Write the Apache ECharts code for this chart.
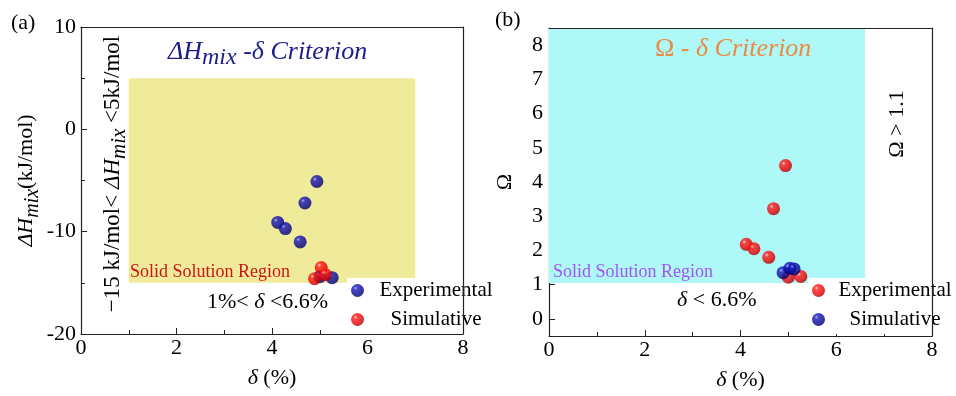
<!DOCTYPE html>
<html>
<head>
<meta charset="utf-8">
<script src="https://cdn.jsdelivr.net/npm/echarts@6/dist/echarts.min.js"></script>
<style>html,body{margin:0;padding:0;background:#fff;}#c{width:956px;height:396px;}</style>
</head>
<body>
<div id="c"></div>
<script>
// ---- data ----
const expDelta = [4.12, 4.28, 4.59, 4.69, 4.94, 5.00, 5.26];
const expDH    = [-9.1, -9.7, -11.0, -7.2, -5.1, -14.4, -14.5];
const expOmega = [2.18, 2.05, 1.80, 3.22, 4.48, 1.22, 1.24];
const simDelta = [4.89, 5.03, 5.12];
const simDH    = [-14.6, -13.5, -14.2];
const simOmega = [1.35, 1.48, 1.46];
// criterion regions
const regionA_delta = [1, 7];
const regionA_H = [-15, 5];
const regionB_delta = [0, 6.6];
const regionB_omega = [1.05, 8.5];
// axis ticks
const xTicks = [0, 2, 4, 6, 8];
const yTicksA = [-20, -10, 0, 10];
const yTicksB = [0, 1, 2, 3, 4, 5, 6, 7, 8];

const FONT = 'Liberation Serif';
const zip = (a, b) => a.map((v, i) => [v, b[i]]);

const blueBall = {type:'radial', x:0.35, y:0.32, r:0.7, colorStops:[
  {offset:0, color:'#9a9cff'},{offset:0.22, color:'#1818b8'},{offset:0.7, color:'#050590'},{offset:1, color:'#000060'}]};
const redBall = {type:'radial', x:0.35, y:0.32, r:0.7, colorStops:[
  {offset:0, color:'#ffd0d0'},{offset:0.22, color:'#ff1a1a'},{offset:0.7, color:'#ee0000'},{offset:1, color:'#a00000'}]};

const chart = echarts.init(document.getElementById('c'), null, {renderer:'canvas'});

function mainX(gi) {
  return {
    gridIndex: gi, type:'value', min: xTicks[0], max: xTicks[xTicks.length-1], interval: 2,
    position:'bottom',
    axisLine:{show:true, onZero:false, lineStyle:{color:'#222', width:1.2}},
    axisTick:{show:true, inside:true, length:6, lineStyle:{color:'#222'}},
    minorTick:{show:true, splitNumber:2, length:4, lineStyle:{color:'#222'}},
    splitLine:{show:false},
    axisLabel:{color:'#000', fontSize:22, fontFamily:FONT, margin:3},
    name:'{i|δ} (%)', nameLocation:'middle', nameGap:33,
    nameTextStyle:{color:'#000', fontSize:22, fontFamily:FONT,
      rich:{i:{fontStyle:'italic', fontSize:22, fontFamily:FONT, color:'#000'}}}
  };
}
function frameX(gi) {
  return {gridIndex:gi, type:'value', position:'top', min:0, max:8, z:5,
    axisLine:{show:true, onZero:false, lineStyle:{color:'#222', width:1.2}},
    axisTick:{show:false}, axisLabel:{show:false}, splitLine:{show:false}};
}
function frameY(gi, mn, mx) {
  return {gridIndex:gi, type:'value', position:'right', min:mn, max:mx, z:5,
    axisLine:{show:true, onZero:false, lineStyle:{color:'#222', width:1.2}},
    axisTick:{show:false}, axisLabel:{show:false}, splitLine:{show:false}};
}

// rich styles for echarts components (use color)
const subRichC = (color, size) => ({
  i:{fontStyle:'italic', fontSize:size, fontFamily:FONT, color:color, lineHeight:34},
  s:{fontStyle:'italic', fontSize:size-2, fontFamily:FONT, color:color, lineHeight:34, verticalAlign:'bottom'},
  n:{fontSize:size, fontFamily:FONT, color:color, lineHeight:34}
});
// rich styles for graphic elements (use fill)
const subRichG = (color, size, lh) => ({
  i:{fontStyle:'italic', fontSize:size, fontFamily:FONT, fill:color, lineHeight:lh || 34},
  s:{fontStyle:'italic', fontSize:size-2, fontFamily:FONT, fill:color, lineHeight:lh || 34, verticalAlign:'bottom'},
  n:{fontSize:size, fontFamily:FONT, fill:color, lineHeight:lh || 34}
});

const option = {
  backgroundColor:'#fff',
  animation:false,
  textStyle:{fontFamily:FONT},
  grid:[
    {left:81, top:27, width:382, height:307, show:false},
    {left:549, top:28, width:383, height:308, show:false}
  ],
  xAxis:[mainX(0), mainX(1), frameX(0), frameX(1)],
  yAxis:[
    {gridIndex:0, type:'value', min:yTicksA[0], max:yTicksA[yTicksA.length-1], interval:10,
      axisLine:{show:true, onZero:false, lineStyle:{color:'#222', width:1.2}},
      axisTick:{show:true, inside:true, length:6, lineStyle:{color:'#222'}},
      minorTick:{show:true, splitNumber:2, length:4, lineStyle:{color:'#222'}},
      splitLine:{show:false},
      axisLabel:{color:'#000', fontSize:22, fontFamily:FONT, margin:5},
      name:'{i|ΔH}{s|mix}{n|(kJ/mol)}', nameLocation:'middle', nameGap:36, nameRotate:90,
      nameTextStyle:{fontFamily:FONT, rich: subRichC('#000', 22)}
    },
    {gridIndex:1, type:'value', min:-0.5, max:8.5, splitNumber:9,
      axisLine:{show:true, onZero:false, lineStyle:{color:'#222', width:1.2}},
      axisTick:{show:true, inside:true, length:6, lineStyle:{color:'#222'},
        customValues: yTicksB},
      splitLine:{show:false},
      axisLabel:{color:'#000', fontSize:22, fontFamily:FONT, margin:6, customValues: yTicksB,
        formatter: v => (Math.abs(v - Math.round(v)) < 1e-6 ? String(Math.round(v)) : '')},
      name:'Ω', nameLocation:'middle', nameGap:33, nameRotate:90,
      nameTextStyle:{color:'#000', fontSize:22, fontFamily:FONT}
    },
    frameY(0, -20, 10), frameY(1, -0.5, 8.5)
  ],
  legend:[
    {left:347, top:278, orient:'vertical', icon:'circle', itemWidth:13, itemHeight:13, itemGap:8,
      padding:[2,2,4,4], backgroundColor:'#fff', selectedMode:false, z:3,
      data:[{name:'Experimental', itemStyle:{color:blueBall}}, {name:'Simulative', itemStyle:{color:redBall}}],
      formatter: n => '{t|' + n + '}',
      textStyle:{fontFamily:FONT, rich:{t:{width:134, align:'center', fontSize:21, fontFamily:FONT, color:'#000', lineHeight:22}}}
    },
    {left:808, top:278, orient:'vertical', icon:'circle', itemWidth:13, itemHeight:13, itemGap:8,
      padding:[2,2,4,4], backgroundColor:'#fff', selectedMode:false, z:3,
      data:[{name:'Experimental', itemStyle:{color:redBall}}, {name:'Simulative', itemStyle:{color:blueBall}}],
      formatter: n => '{t|' + n + '}',
      textStyle:{fontFamily:FONT, rich:{t:{width:130, align:'center', fontSize:21, fontFamily:FONT, color:'#000', lineHeight:22}}}
    }
  ],
  series:[
    {name:'regionA', type:'scatter', xAxisIndex:0, yAxisIndex:0, data:[], z:1, silent:true,
      markArea:{silent:true, itemStyle:{color:'#f0eb9b'},
        data:[[{coord:[regionA_delta[0], regionA_H[1]]}, {coord:[regionA_delta[1], regionA_H[0]]}]]}},
    {name:'regionB', type:'scatter', xAxisIndex:1, yAxisIndex:1, data:[], z:1, silent:true,
      markArea:{silent:true, itemStyle:{color:'#aef8f8'},
        data:[[{coord:[regionB_delta[0], regionB_omega[1]]}, {coord:[regionB_delta[1], regionB_omega[0]]}]]}},
    {name:'Experimental', type:'scatter', xAxisIndex:0, yAxisIndex:0, z:4, symbolSize:13,
      itemStyle:{color:blueBall}, data: zip(expDelta, expDH)},
    {name:'Simulative', type:'scatter', xAxisIndex:0, yAxisIndex:0, z:4, symbolSize:13,
      itemStyle:{color:redBall}, data: zip(simDelta, simDH)},
    {name:'Experimental', type:'scatter', xAxisIndex:1, yAxisIndex:1, z:4, symbolSize:13,
      itemStyle:{color:redBall}, data: zip(expDelta, expOmega)},
    {name:'Simulative', type:'scatter', xAxisIndex:1, yAxisIndex:1, z:4, symbolSize:13,
      itemStyle:{color:blueBall}, data: zip(simDelta, simOmega)}
  ],
  graphic:[
    {type:'text', left:11, top:12, style:{text:'(a)', fontSize:22, fontFamily:FONT, fill:'#000'}},
    {type:'text', left:495, top:9, style:{text:'(b)', fontSize:22, fontFamily:FONT, fill:'#000'}},
    {type:'text', x:168, y:52, z:10, style:{text:'{i|ΔH}{s|mix}{i| -δ Criterion}', align:'left', verticalAlign:'middle',
      fontFamily:FONT, rich: subRichG('#1c1c8c', 26, 36)}},
    {type:'text', x:655, y:49, z:10, style:{text:'{n|Ω}{i| - δ Criterion}', align:'left', verticalAlign:'middle',
      fontFamily:FONT, rich: subRichG('#eb8a40', 26)}},
    {type:'text', x:113, y:174, rotation:Math.PI/2, z:10, style:{
      text:'{n|−15 kJ/mol< }{i|ΔH}{s|mix}{n| <5kJ/mol}', align:'center', verticalAlign:'middle',
      fontFamily:FONT, rich: subRichG('#000', 23)}},
    {type:'text', x:897, y:124, rotation:Math.PI/2, z:10, style:{
      text:'Ω > 1.1', align:'center', verticalAlign:'middle', fontSize:22, fontFamily:FONT, fill:'#000'}},
    {type:'text', x:130, y:272, z:10, style:{text:'Solid Solution Region', align:'left', verticalAlign:'middle',
      fontSize:18, fontFamily:FONT, fill:'#cc1414'}},
    {type:'text', x:553, y:272, z:10, style:{text:'Solid Solution Region', align:'left', verticalAlign:'middle',
      fontSize:18, fontFamily:FONT, fill:'#a254f2'}},
    {type:'text', x:207, y:302, z:10, style:{text:'{n|1%< }{i|δ}{n| <6.6%}', align:'left', verticalAlign:'middle',
      fontSize:22, fontFamily:FONT, fill:'#000', rich:{
        n:{fontSize:22, fontFamily:FONT, fill:'#000'},
        i:{fontStyle:'italic', fontSize:22, fontFamily:FONT, fill:'#000'}}}},
    {type:'text', x:677, y:300, z:10, style:{text:'{i|δ}{n| < 6.6%}', align:'left', verticalAlign:'middle',
      fontSize:22, fontFamily:FONT, fill:'#000', rich:{
        n:{fontSize:22, fontFamily:FONT, fill:'#000'},
        i:{fontStyle:'italic', fontSize:22, fontFamily:FONT, fill:'#000'}}}}
  ]
};
chart.setOption(option);
</script>
</body>
</html>
